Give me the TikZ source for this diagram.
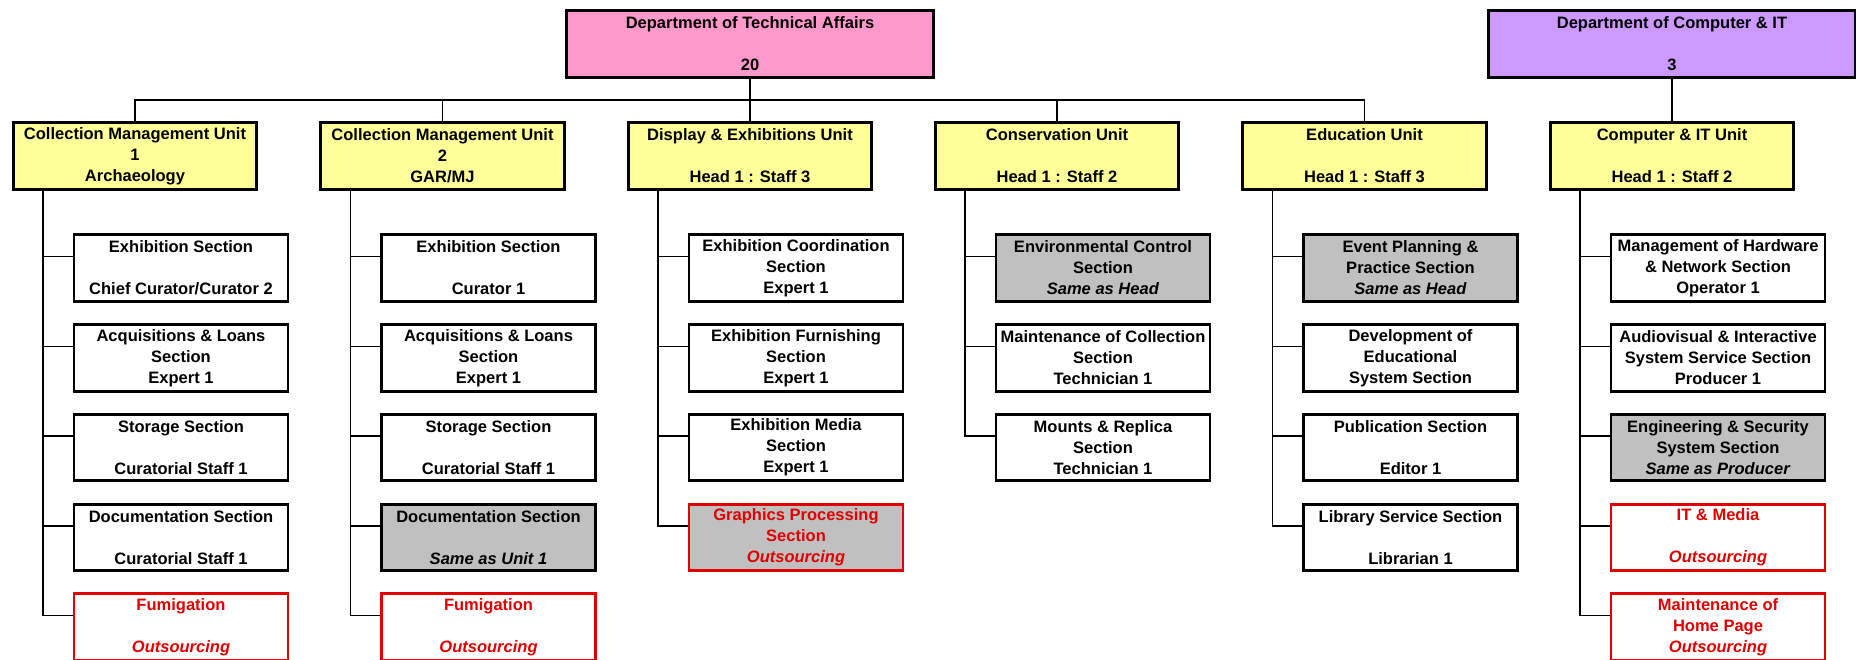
\documentclass[tikz,border=0pt]{standalone}
\usepackage{fontspec}
\setmainfont{Liberation Sans}
\usepackage{tikz}
\usetikzlibrary{positioning}
\definecolor{pinkfill}{HTML}{FF99CC}
\definecolor{purplefill}{HTML}{CC99FF}
\definecolor{yellowfill}{HTML}{FFFF99}
\definecolor{grayfill}{HTML}{C0C0C0}
\definecolor{redline}{HTML}{E00000}
\tikzset{
  box/.style={draw, line width=1.5pt, align=center, inner sep=1pt,
    font=\fontsize{9.4}{11.95}\selectfont\bfseries},
  dept/.style={box, minimum width=7.33cm, minimum height=1.33cm},
  unit/.style={box, fill=yellowfill, minimum width=4.87cm, minimum height=1.33cm},
  sect/.style={box, fill=white, minimum width=4.28cm, minimum height=1.33cm},
  same/.style={fill=grayfill},
  outs/.style={draw=redline, text=redline},
  link/.style={line width=1pt}
}

\begin{document}
\begin{tikzpicture}
\useasboundingbox (0,0) rectangle (37.12,-13.2);
	% Departments
\node [dept, fill=pinkfill] (d1) at (15.00,-0.88) {Department of Technical Affairs\\[\baselineskip]20};
\node [dept, fill=purplefill] (d2) at (33.44,-0.88) {Department of Computer \& IT\\[\baselineskip]3};

	% Units
\node [unit] (u1) at (2.70,-3.12) {Collection Management Unit\\1\\Archaeology};
\node [unit] (u2) at (8.85,-3.12) {Collection Management Unit\\2\\GAR/MJ};
\node [unit] (u3) at (15.00,-3.12) {Display \& Exhibitions Unit\\[\baselineskip]Head 1 : Staff 3};
\node [unit] (u4) at (21.14,-3.12) {Conservation Unit\\[\baselineskip]Head 1 : Staff 2};
\node [unit] (u5) at (27.29,-3.12) {Education Unit\\[\baselineskip]Head 1 : Staff 3};
\node [unit] (u6) at (33.44,-3.12) {Computer \& IT Unit\\[\baselineskip]Head 1 : Staff 2};
\draw [link] (d1.south) -- ++(0,-0.43) -| (u1.north);
\draw [link] (d1.south) -- ++(0,-0.43) -| (u2.north);
\draw [link] (d1.south) -- ++(0,-0.43) -| (u3.north);
\draw [link] (d1.south) -- ++(0,-0.43) -| (u4.north);
\draw [link] (d1.south) -- ++(0,-0.43) -| (u5.north);
\draw [link] (d2.south) -- (u6.north);

	% Unit 1
\node [sect] (s11) at (3.62,-5.36) {Exhibition Section\\[\baselineskip]Chief Curator/Curator 2};
\node [sect] (s12) at (3.62,-7.16) {Acquisitions \& Loans\\Section\\Expert 1};
\node [sect] (s13) at (3.62,-8.95) {Storage Section\\[\baselineskip]Curatorial Staff 1};
\node [sect] (s14) at (3.62,-10.75) {Documentation Section\\[\baselineskip]Curatorial Staff 1};
\node [sect, outs] (s15) at (3.62,-12.54) {Fumigation\\[\baselineskip]\textit{Outsourcing}};
\draw [link] ([xshift=-1.84cm]u1.south) |- ([yshift=0.23cm]s11.west);
\draw [link] ([xshift=-1.84cm]u1.south) |- ([yshift=0.23cm]s12.west);
\draw [link] ([xshift=-1.84cm]u1.south) |- ([yshift=0.23cm]s13.west);
\draw [link] ([xshift=-1.84cm]u1.south) |- ([yshift=0.23cm]s14.west);
\draw [link] ([xshift=-1.84cm]u1.south) |- ([yshift=0.23cm]s15.west);

	% Unit 2
\node [sect] (s21) at (9.77,-5.36) {Exhibition Section\\[\baselineskip]Curator 1};
\node [sect] (s22) at (9.77,-7.16) {Acquisitions \& Loans\\Section\\Expert 1};
\node [sect] (s23) at (9.77,-8.95) {Storage Section\\[\baselineskip]Curatorial Staff 1};
\node [sect, same] (s24) at (9.77,-10.75) {Documentation Section\\[\baselineskip]\textit{Same as Unit 1}};
\node [sect, outs] (s25) at (9.77,-12.54) {Fumigation\\[\baselineskip]\textit{Outsourcing}};
\draw [link] ([xshift=-1.84cm]u2.south) |- ([yshift=0.23cm]s21.west);
\draw [link] ([xshift=-1.84cm]u2.south) |- ([yshift=0.23cm]s22.west);
\draw [link] ([xshift=-1.84cm]u2.south) |- ([yshift=0.23cm]s23.west);
\draw [link] ([xshift=-1.84cm]u2.south) |- ([yshift=0.23cm]s24.west);
\draw [link] ([xshift=-1.84cm]u2.south) |- ([yshift=0.23cm]s25.west);

	% Unit 3
\node [sect] (s31) at (15.92,-5.36) {Exhibition Coordination\\Section\\Expert 1};
\node [sect] (s32) at (15.92,-7.16) {Exhibition Furnishing\\Section\\Expert 1};
\node [sect] (s33) at (15.92,-8.95) {Exhibition Media\\Section\\Expert 1};
\node [sect, same, outs] (s34) at (15.92,-10.75) {Graphics Processing\\Section\\\textit{Outsourcing}};
\draw [link] ([xshift=-1.84cm]u3.south) |- ([yshift=0.23cm]s31.west);
\draw [link] ([xshift=-1.84cm]u3.south) |- ([yshift=0.23cm]s32.west);
\draw [link] ([xshift=-1.84cm]u3.south) |- ([yshift=0.23cm]s33.west);
\draw [link] ([xshift=-1.84cm]u3.south) |- ([yshift=0.23cm]s34.west);

	% Unit 4
\node [sect, same] (s41) at (22.06,-5.36) {Environmental Control\\Section\\\textit{Same as Head}};
\node [sect] (s42) at (22.06,-7.16) {Maintenance of Collection\\Section\\Technician 1};
\node [sect] (s43) at (22.06,-8.95) {Mounts \& Replica\\Section\\Technician 1};
\draw [link] ([xshift=-1.84cm]u4.south) |- ([yshift=0.23cm]s41.west);
\draw [link] ([xshift=-1.84cm]u4.south) |- ([yshift=0.23cm]s42.west);
\draw [link] ([xshift=-1.84cm]u4.south) |- ([yshift=0.23cm]s43.west);

	% Unit 5
\node [sect, same] (s51) at (28.21,-5.36) {Event Planning \&\\Practice Section\\\textit{Same as Head}};
\node [sect] (s52) at (28.21,-7.16) {Development of\\Educational\\System Section};
\node [sect] (s53) at (28.21,-8.95) {Publication Section\\[\baselineskip]Editor 1};
\node [sect] (s54) at (28.21,-10.75) {Library Service Section\\[\baselineskip]Librarian 1};
\draw [link] ([xshift=-1.84cm]u5.south) |- ([yshift=0.23cm]s51.west);
\draw [link] ([xshift=-1.84cm]u5.south) |- ([yshift=0.23cm]s52.west);
\draw [link] ([xshift=-1.84cm]u5.south) |- ([yshift=0.23cm]s53.west);
\draw [link] ([xshift=-1.84cm]u5.south) |- ([yshift=0.23cm]s54.west);

	% Unit 6
\node [sect] (s61) at (34.36,-5.36) {Management of Hardware\\\& Network Section\\Operator 1};
\node [sect] (s62) at (34.36,-7.16) {Audiovisual \& Interactive\\System Service Section\\Producer 1};
\node [sect, same] (s63) at (34.36,-8.95) {Engineering \& Security\\System Section\\\textit{Same as Producer}};
\node [sect, outs] (s64) at (34.36,-10.75) {IT \& Media\\[\baselineskip]\textit{Outsourcing}};
\node [sect, outs] (s65) at (34.36,-12.54) {Maintenance of\\Home Page\\\textit{Outsourcing}};
\draw [link] ([xshift=-1.84cm]u6.south) |- ([yshift=0.23cm]s61.west);
\draw [link] ([xshift=-1.84cm]u6.south) |- ([yshift=0.23cm]s62.west);
\draw [link] ([xshift=-1.84cm]u6.south) |- ([yshift=0.23cm]s63.west);
\draw [link] ([xshift=-1.84cm]u6.south) |- ([yshift=0.23cm]s64.west);
\draw [link] ([xshift=-1.84cm]u6.south) |- ([yshift=0.23cm]s65.west);
\end{tikzpicture}
\end{document}
